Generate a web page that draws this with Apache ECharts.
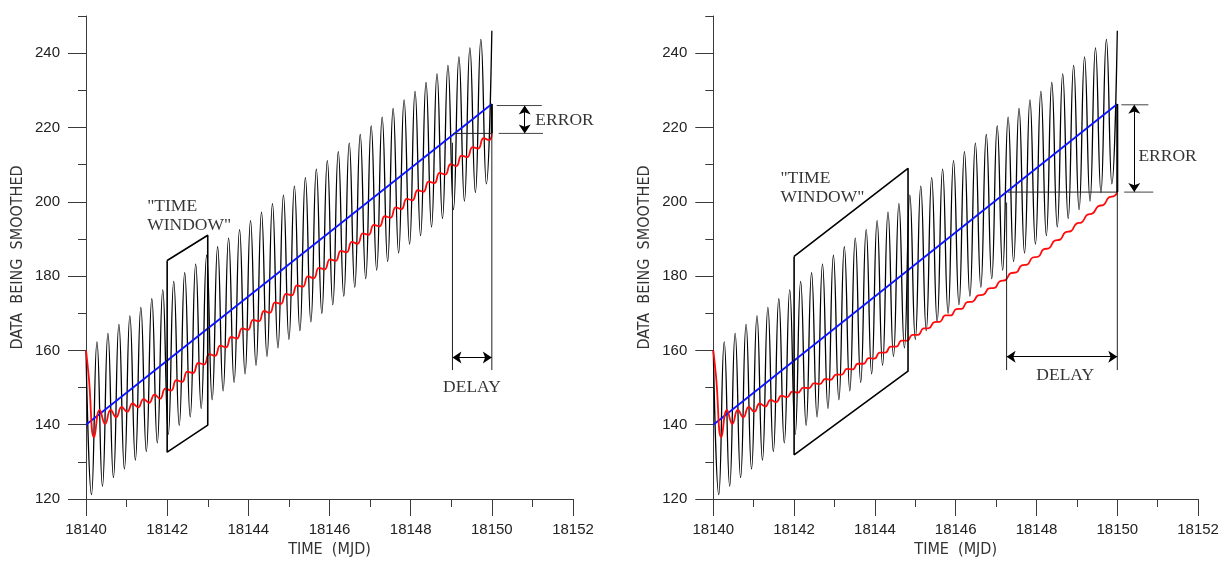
<!DOCTYPE html>
<html><head><meta charset="utf-8">
<script src="https://cdn.jsdelivr.net/npm/echarts@6/dist/echarts.min.js"></script>
<style>html,body{margin:0;padding:0;background:#fff}#c{width:1229px;height:563px}</style>
</head><body><div id="c"></div>
<script>
// ---------------- data ----------------
const xTickLabels = [18140, 18142, 18144, 18146, 18148, 18150, 18152];
const yTickLabels = [120, 140, 160, 180, 200, 220, 240];

// raw (oscillating) data: successive peaks / troughs, sampled every half-cycle from 18140
const rawStart = 18140;
const rawStep = 0.13514;
const rawValues = [
  160,121.2,162.3,123.5,164.6,125.8,167.0,128.1,169.3,130.5,
  171.6,132.8,173.9,135.1,176.3,137.4,178.6,139.8,180.9,142.1,
  183.2,144.4,185.6,146.7,187.9,149.1,190.2,151.4,192.5,153.7,
  194.9,156.0,197.2,158.4,199.5,160.7,201.8,163.0,204.2,165.3,
  206.5,167.7,208.8,170.0,211.1,172.3,213.5,174.6,215.8,177.0,
  218.1,179.3,220.4,181.6,222.8,183.9,225.1,186.2,227.4,188.6,
  229.7,190.9,232.1,193.2,234.4,195.5,236.7,197.9,239.0,200.2,
  241.4,202.5,243.7,204.8,246.0
];

// underlying trend (blue)
const trendTimes = [18140, 18150];
const trendValues = [140, 226.3];

// smoothed output (red): first at 18140, then at mid half-cycles, last at 18150
const smoothEnd = 18150;
const smoothLeftValues = [
  160,
  153.0,136.6,144.0,140.2,144.0,142.0,144.8,143.5,145.7,144.7,
  146.9,145.9,148.1,147.0,149.7,149.2,152.0,151.5,154.3,153.9,
  156.6,156.2,159.0,158.5,161.3,160.8,163.6,163.2,165.9,165.5,
  168.2,167.8,170.6,170.1,172.9,172.5,175.2,174.8,177.5,177.1,
  179.9,179.4,182.2,181.8,184.5,184.1,186.8,186.4,189.2,188.7,
  191.5,191.1,193.8,193.4,196.1,195.7,198.5,198.0,200.8,200.4,
  203.1,202.7,205.4,205.0,207.8,207.3,210.1,209.6,212.4,212.0,
  214.7,214.3,217.1,216.6,
  218.3
];
const smoothRightValues = [
  160,
  153.0,136.6,144.0,140.2,144.0,142.0,144.8,143.5,145.7,144.9,
  146.7,146.1,147.8,147.4,148.9,148.6,150.0,149.8,151.2,150.9,
  152.3,152.1,153.5,153.5,155.0,154.9,156.4,156.4,157.9,157.8,
  159.4,159.4,161.0,161.0,162.6,162.6,164.2,164.2,165.9,166.0,
  167.6,167.7,169.4,169.4,171.1,171.2,173.0,173.1,174.8,175.0,
  176.7,176.8,178.6,178.9,180.8,181.0,182.9,183.1,185.0,185.2,
  187.2,187.5,189.5,189.8,191.8,192.1,194.1,194.5,196.5,196.9,
  198.8,199.2,201.2,201.6,
  202.6
];

// annotation geometry (data coordinates)
const leftWindowBox = [[18142,184.2],[18143,191.0],[18143,139.9],[18142,132.6],[18142,184.2]];
const rightWindowBox = [[18142,185.3],[18144.82,209.0],[18144.82,154.4],[18142,131.9],[18142,185.3]];
const leftDelayLines = [
  [[18149.03,215.9],[18149.03,154.7]],
  [[18150,226.3],[18150,154.7]],
  [[18149.05,218.4],[18150,218.4]]
];
const leftErrorBar = [[18150,226.3],[18150,218.4]];
const leftErrorTicks = [
  [[18150.12,225.9],[18151.23,225.9]],
  [[18150.17,218.4],[18151.26,218.4]]
];
const leftDelayArrow = [[18149.03,158.1],[18150,158.1]];
const leftErrorArrow = [[18150.81,225.9],[18150.81,218.4]];

const rightDelayLines = [
  [[18147.26,199.8],[18147.26,154.7]],
  [[18150,226.3],[18150,154.7]],
  [[18147.29,202.6],[18150,202.6]]
];
const rightErrorBar = [[18150,226.3],[18150,202.6]];
const rightErrorTicks = [
  [[18150.10,226.1],[18150.77,226.1]],
  [[18150.17,202.6],[18150.89,202.6]]
];
const rightDelayArrow = [[18147.26,158.3],[18150,158.3]];
const rightErrorArrow = [[18150.42,226.1],[18150.42,202.6]];

const leftTexts = [
  {pos:[18141.495,196.2], text:'"TIME\nWINDOW"', place:'right'},
  {pos:[18151.06,221.8], text:'ERROR', place:'right'},
  {pos:[18149.51,150.1], text:'DELAY', place:'inside'}
];
const rightTexts = [
  {pos:[18141.65,203.7], text:'"TIME\nWINDOW"', place:'right'},
  {pos:[18150.51,212.3], text:'ERROR', place:'right'},
  {pos:[18148.71,153.3], text:'DELAY', place:'inside'}
];

// ---------------- build ----------------
const rawData = rawValues.map((v, i) => [rawStart + i * rawStep, v]);
function smoothData(vals) {
  const n = vals.length;
  return vals.map((v, i) => {
    let t;
    if (i === 0) t = rawStart;
    else if (i === n - 1) t = smoothEnd;
    else t = rawStart + (i - 0.5) * rawStep;
    return [t, v];
  });
}
const trendData = trendTimes.map((t, i) => [t, trendValues[i]]);

const sansAxis = 'Liberation Sans, Arial, sans-serif';
const narrow = '"Liberation Sans Narrow", "DejaVu Sans Condensed", "Liberation Sans", sans-serif';
const serif = '"Liberation Serif", "Times New Roman", serif';
const axisColor = '#3a3a3a';

function xAxisFor(g) {
  return {
    type: 'value', gridIndex: g, min: 18140, max: 18152, interval: 2,
    name: 'TIME  (MJD)', nameLocation: 'middle', nameGap: 43,
    nameTextStyle: {fontFamily: narrow, fontSize: 16, color: '#333'},
    axisLine: {show: true, onZero: false, lineStyle: {color: axisColor, width: 1}},
    axisTick: {show: true, length: 17, lineStyle: {color: axisColor, width: 1}},
    minorTick: {show: true, splitNumber: 2, length: 8, lineStyle: {color: axisColor, width: 1}},
    axisLabel: {margin: 23, fontFamily: sansAxis, fontSize: 15, color: '#222', formatter: v => String(v)},
    splitLine: {show: false}, minorSplitLine: {show: false}
  };
}
function yAxisMain(g) {
  return {
    type: 'value', gridIndex: g, min: 120, max: 250, interval: 10, position: 'left',
    name: 'DATA  BEING  SMOOTHED', nameLocation: 'middle', nameGap: 60, nameRotate: 90,
    nameTextStyle: {fontFamily: narrow, fontSize: 16, color: '#333'},
    axisLine: {show: true, onZero: false, lineStyle: {color: axisColor, width: 1}},
    axisTick: {show: true, length: 8, lineStyle: {color: axisColor, width: 1}},
    axisLabel: {margin: 26, fontFamily: sansAxis, fontSize: 15, color: '#222',
      customValues: yTickLabels,
      formatter: v => (yTickLabels.indexOf(v) >= 0 ? String(v) : '')},
    splitLine: {show: false}
  };
}
function yAxisLong(g) {
  return {
    type: 'value', gridIndex: g, min: 120, max: 250, interval: 20, position: 'left', offset: 0,
    axisLine: {show: false}, axisLabel: {show: false}, splitLine: {show: false},
    axisTick: {show: true, length: 18, customValues: yTickLabels, lineStyle: {color: axisColor, width: 1}}
  };
}

function lineSeries(g, data, color, width, extra) {
  return Object.assign({
    type: 'line', xAxisIndex: g, yAxisIndex: 2 * g, data: data, symbol: 'none',
    silent: true, animation: false, lineStyle: {color: color, width: width}, z: 3
  }, extra || {});
}
function arrowSeries(g, seg) {
  return {
    type: 'line', xAxisIndex: g, yAxisIndex: 2 * g, data: [], silent: true, animation: false,
    markLine: {
      silent: true, animation: false, symbol: ['arrow', 'arrow'], symbolSize: [9, 9],
      label: {show: false}, lineStyle: {color: '#000', width: 1, type: 'solid'},
      emphasis: {disabled: true},
      data: [[{coord: seg[0]}, {coord: seg[1]}]]
    }
  };
}
function textSeries(g, items) {
  return {
    type: 'scatter', xAxisIndex: g, yAxisIndex: 2 * g, symbolSize: 1, silent: true, animation: false,
    itemStyle: {color: 'rgba(0,0,0,0)'}, z: 10,
    data: items.map(it => ({
      value: it.pos,
      label: {show: true, formatter: it.text, position: it.place, distance: 0,
        fontFamily: serif, fontSize: 17.5, lineHeight: 19, color: '#000', align: it.place === 'right' ? 'left' : 'center'}
    }))
  };
}

function panelSeries(g, smoothVals, box, delayLines, errBar, errTicks, delayArrow, errArrow, texts) {
  const s = [];
  s.push(lineSeries(g, rawData, '#000', 1.3, {smooth: 0.5, z: 2}));
  s.push(lineSeries(g, trendData, '#0a14ff', 1.8, {z: 3}));
  s.push(lineSeries(g, smoothData(smoothVals), '#ff0a0a', 1.8, {smooth: 0.5, z: 4}));
  s.push(lineSeries(g, box, '#000', 1.6, {z: 5}));
  delayLines.forEach(d => s.push(lineSeries(g, d, '#222', 1, {z: 5})));
  s.push(lineSeries(g, errBar, '#000', 2, {z: 5}));
  errTicks.forEach(d => s.push(lineSeries(g, d, '#444', 1, {z: 5, clip: false})));
  s.push(arrowSeries(g, delayArrow));
  s.push(arrowSeries(g, errArrow));
  s.push(textSeries(g, texts));
  return s;
}

const chart = echarts.init(document.getElementById('c'), null, {renderer: 'canvas'});
chart.setOption({
  animation: false,
  backgroundColor: '#fff',
  grid: [
    {left: 86, top: 16, width: 487, height: 485.3},
    {left: 713.3, top: 16, width: 484.8, height: 485.3}
  ],
  xAxis: [xAxisFor(0), xAxisFor(1)],
  yAxis: [yAxisMain(0), yAxisLong(0), yAxisMain(1), yAxisLong(1)],
  series: [].concat(
    panelSeries(0, smoothLeftValues, leftWindowBox, leftDelayLines, leftErrorBar, leftErrorTicks, leftDelayArrow, leftErrorArrow, leftTexts),
    panelSeries(1, smoothRightValues, rightWindowBox, rightDelayLines, rightErrorBar, rightErrorTicks, rightDelayArrow, rightErrorArrow, rightTexts)
  )
});
</script>
</body></html>
